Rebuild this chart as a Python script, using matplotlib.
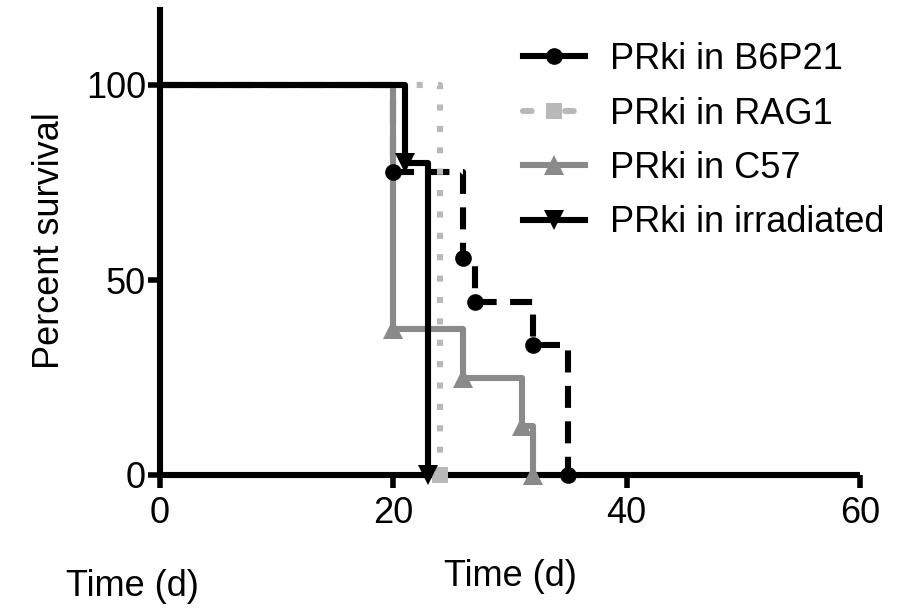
import matplotlib
matplotlib.use("Agg")
import matplotlib.pyplot as plt
from matplotlib.lines import Line2D

plt.rcParams['font.family'] = ['Liberation Sans', 'DejaVu Sans']

# Kaplan-Meier step data (time in days, percent survival)
series_names = ["PRki in B6P21", "PRki in RAG1", "PRki in C57", "PRki in irradiated"]
b6p21_time = [0, 20, 26, 27, 32, 35]
b6p21_surv = [100, 77.8, 55.6, 44.4, 33.3, 0]
rag1_time = [0, 24]
rag1_surv = [100, 0]
c57_time = [0, 20, 26, 31, 32]
c57_surv = [100, 37.5, 25, 12.5, 0]
irr_time = [0, 21, 23]
irr_surv = [100, 80, 0]

x_ticks = [0, 20, 40, 60]
y_ticks = [0, 50, 100]

BLACK = "#000000"
LIGHT = "#b9b9b9"
GRAY = "#8a8a8a"

fig = plt.figure(figsize=(9.07, 6.13), dpi=100)
W, H = 907, 613
ax = fig.add_axes([160 / W, 1 - 475 / H, (860 - 160) / W, (475 - 7) / H])

lw = 4.4
FS = 26

specs = [
    (b6p21_time, b6p21_surv, BLACK, (0, (3.6, 2.2)), 'o', 12, 2.0),
    (c57_time, c57_surv, GRAY, '-', '^', 14, 2.1),
    (rag1_time, rag1_surv, LIGHT, (0, (1.0, 2.5)), 's', 12, 2.2),
    (irr_time, irr_surv, BLACK, '-', 'v', 14, 2.3),
]
for t, s, c, ls, m, ms, z in specs:
    ax.step(t, s, where='post', color=c, lw=lw, linestyle=ls, zorder=z,
            clip_on=False, solid_capstyle='butt', dash_capstyle='butt')
    ax.plot(t[1:], s[1:], linestyle='none', marker=m, markersize=ms,
            color=c, markeredgewidth=0, zorder=z + 1, clip_on=False)

ax.set_xlim(0, 60)
ax.set_ylim(0, 120)
ax.set_xticks(x_ticks)
ax.set_yticks(y_ticks)
for sp in ['top', 'right']:
    ax.spines[sp].set_visible(False)
for sp in ['left', 'bottom']:
    ax.spines[sp].set_linewidth(4.4)
    ax.spines[sp].set_capstyle('butt')
ax.tick_params(axis='both', length=9, width=4, labelsize=FS, direction='out')
ax.tick_params(axis='y', pad=1)
ax.tick_params(axis='x', pad=6)

ax.set_xlabel("Time (d)", fontsize=FS, labelpad=20)
ax.set_ylabel("Percent survival", fontsize=FS, labelpad=14)

fig.text(132 / W, 1 - 586 / H, "Time (d)", fontsize=FS, ha='center', va='center')

handles = [
    Line2D([], [], color=BLACK, lw=lw, marker='o', markersize=12, markeredgewidth=0),
    Line2D([], [], color=LIGHT, lw=lw, linestyle=(0, (1.4, 5.5)), dash_capstyle='round',
           marker='s', markersize=12, markeredgewidth=0),
    Line2D([], [], color=GRAY, lw=lw, marker='^', markersize=14, markeredgewidth=0),
    Line2D([], [], color=BLACK, lw=lw, marker='v', markersize=14, markeredgewidth=0),
]
leg = ax.legend(handles, series_names, loc='upper left',
                bbox_to_anchor=(523 / W, 1 - 42 / H), bbox_transform=fig.transFigure,
                frameon=False, fontsize=FS, handlelength=1.72, handletextpad=0.7,
                labelspacing=0.54, borderpad=0, borderaxespad=0)

fig.savefig("out.png", dpi=100)
